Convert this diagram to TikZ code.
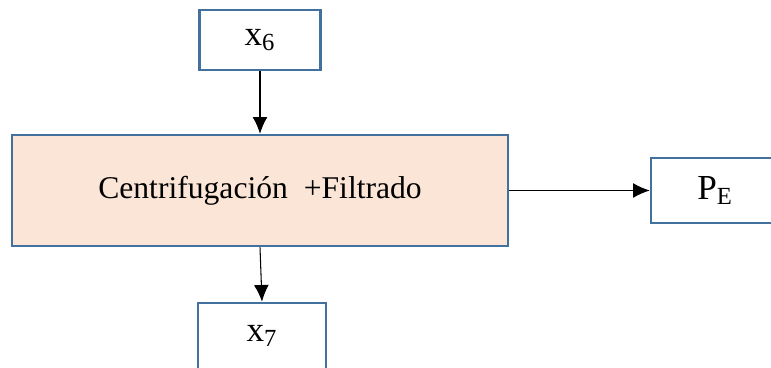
\documentclass[tikz,border=0pt]{standalone}
\usepackage{fontspec}
\setmainfont{Liberation Serif}
\usetikzlibrary{arrows.meta, positioning}

\definecolor{boxline}{HTML}{41719C}
\definecolor{boxfill}{HTML}{FBE5D6}

\begin{document}
\begin{tikzpicture}[x=0.02cm, y=-0.02cm,
    >={Latex[length=9.5pt,width=8.5pt]},
    block/.style={draw=boxline, line width=1.5pt, fill=white, inner sep=0pt,
      font=\fontsize{20}{23}\selectfont},
    flow/.style={->, line width=0.6pt}]
% page size
\useasboundingbox (0,0) rectangle (771,368);

% the blocks
\node[block, minimum width=2.42cm, minimum height=1.2cm] (x6) at (260,40) {x\textsubscript{6}};
\node[block, fill=boxfill, minimum width=9.92cm, minimum height=2.22cm,
      font=\fontsize{18}{21}\selectfont] (proc) at (260,190.5) {Centrifugación \ +Filtrado};
\node[block, minimum width=2.56cm, minimum height=1.3cm] (pe) at (715,190.5) {P\textsubscript{E}};
\node[block, minimum width=2.56cm, minimum height=1.32cm] (x7) at (262,336) {x\textsubscript{7}};

% the flows
\draw[flow] (x6.south) -- (proc.north);
\draw[flow] (proc.south) -- (x7.north);
\draw[flow] (proc.east) -- (pe.west);
\end{tikzpicture}
\end{document}
